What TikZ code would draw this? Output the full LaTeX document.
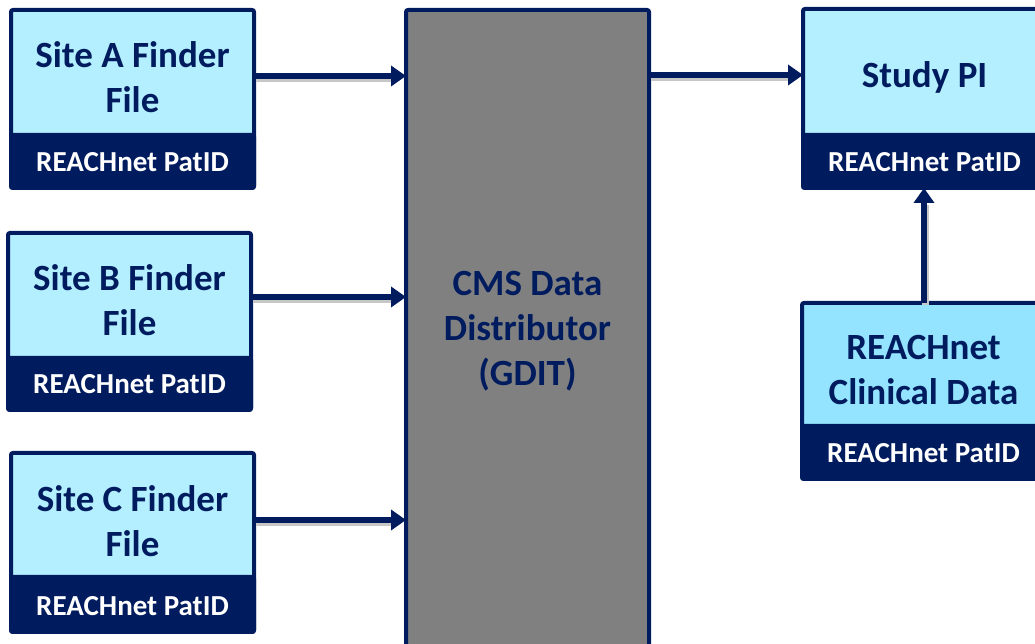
\documentclass[tikz,border=0pt]{standalone}
\usepackage{fontspec}
\setmainfont{Carlito}
\usetikzlibrary{arrows.meta}
\definecolor{navy}{RGB}{0,28,94}
\definecolor{lightcyan}{RGB}{180,239,255}
\definecolor{midcyan}{RGB}{148,227,255}
\definecolor{boxgray}{RGB}{128,128,128}
\tikzset{
  outerbox/.style={draw=navy, line width=4pt, rounded corners=2pt, inner sep=0pt, outer sep=0pt},
  band/.style={fill=navy, draw=navy, line width=4pt, rounded corners=2pt, inner sep=0pt, outer sep=0pt},
  titletext/.style={text=navy, font=\bfseries\fontsize{37}{45}\selectfont, align=center, inner sep=0pt},
  bandtext/.style={text=white, font=\bfseries\fontsize{29}{30}\selectfont, inner sep=0pt},
  flow/.style={draw=navy, line width=6.5pt, -{Triangle[length=15pt,width=20pt]}},
  shadowline/.style={draw=black!22, line width=7pt}
}
\begin{document}
\begin{tikzpicture}[x=1pt,y=1pt]
\useasboundingbox (0,0) rectangle (1035,644);
\clip (0,0) rectangle (1035,644);
% Site A  x 11-254, y 10-188, band from 135
\node[outerbox, fill=lightcyan, minimum width=243pt, minimum height=178pt] (siteA) at (132.5,545) {};
\node[band, minimum width=243pt, minimum height=53pt] (bandA) at (132.5,482.5) {};
\node[titletext] (tA) at (132.5,566.5) {Site A Finder\\File};
\node[bandtext] (pA) at (132.5,482) {REACHnet PatID};
% Site B x 8-251, y 233-410, band from 358
\node[outerbox, fill=lightcyan, minimum width=243pt, minimum height=177pt] (siteB) at (129.5,322.5) {};
\node[band, minimum width=243pt, minimum height=52pt] (bandB) at (129.5,260) {};
\node[titletext] (tB) at (129.5,344) {Site B Finder\\File};
\node[bandtext] (pB) at (129.5,260) {REACHnet PatID};
% Site C x 11-254, y 453-632, band from 577
\node[outerbox, fill=lightcyan, minimum width=243pt, minimum height=179pt] (siteC) at (132.5,101.5) {};
\node[band, minimum width=243pt, minimum height=55pt] (bandC) at (132.5,39.5) {};
\node[titletext] (tC) at (132.5,122.5) {Site C Finder\\File};
\node[bandtext] (pC) at (132.5,38) {REACHnet PatID};
% CMS x 406-649, y 10-650
\node[outerbox, fill=boxgray, minimum width=243pt, minimum height=640pt] (cms) at (527.5,314) {};
\node[titletext] (tcms) at (527.5,313) {CMS Data\\Distributor\\(GDIT)};
% Study PI x 803-1046, y 9-188, band from 135
\node[outerbox, fill=lightcyan, minimum width=243pt, minimum height=179pt] (pi) at (924.5,545.5) {};
\node[band, minimum width=243pt, minimum height=53pt] (bandPI) at (924.5,482.5) {};
\node[titletext] (tPI) at (924.5,567) {Study PI};
\node[bandtext] (pPI) at (924.5,482) {REACHnet PatID};
% Clinical x 802-1045, y 303-479, band from 426
\node[outerbox, fill=midcyan, minimum width=243pt, minimum height=176pt] (clin) at (923.5,253) {};
\node[band, minimum width=243pt, minimum height=53pt] (bandCl) at (923.5,191.5) {};
\node[titletext] (tCl) at (923.5,274) {REACHnet\\Clinical Data};
\node[bandtext] (pCl) at (923.5,191) {REACHnet PatID};
% arrow shadows
\begin{scope}[transform canvas={xshift=1.5pt,yshift=-2.5pt}]
\draw[shadowline] (siteA.east |- 0,568) -- ([xshift=-15pt]cms.west |- 0,568);
\draw[shadowline] (siteB.east |- 0,347) -- ([xshift=-15pt]cms.west |- 0,347);
\draw[shadowline] (siteC.east |- 0,124) -- ([xshift=-15pt]cms.west |- 0,124);
\draw[shadowline] (cms.east |- 0,569) -- ([xshift=-15pt]pi.west |- 0,569);
\draw[shadowline] (clin.north -| 924,0) -- ([yshift=-15pt]pi.south -| 924,0);
\end{scope}
% arrows
\draw[flow] (siteA.east |- 0,568) -- (cms.west |- 0,568);
\draw[flow] (siteB.east |- 0,347) -- (cms.west |- 0,347);
\draw[flow] (siteC.east |- 0,124) -- (cms.west |- 0,124);
\draw[flow] (cms.east |- 0,569) -- (pi.west |- 0,569);
\draw[flow] (clin.north -| 924,0) -- (pi.south -| 924,0);
\end{tikzpicture}
\end{document}
